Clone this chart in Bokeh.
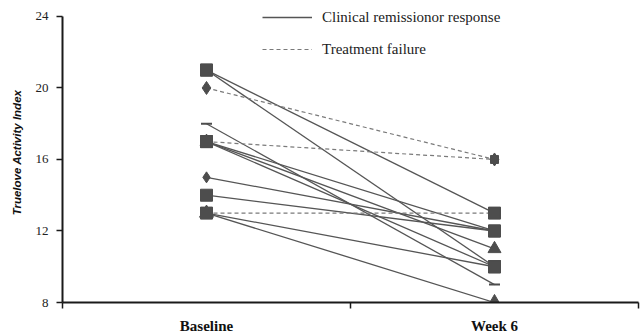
from bokeh.plotting import figure
from bokeh.models import Range1d, FixedTicker, Legend, LegendItem
from bokeh.embed import file_html
from bokeh.resources import INLINE

# ---- data ----
timepoints = ["Baseline", "Week 6"]
baseline = [21, 21, 20, 18, 17, 17, 17, 17, 15, 14, 13, 13, 13]
week6 = [13, 10, 16, 9, 16, 12, 11, 10, 12, 12, 13, 10, 8]
outcome = ["response", "response", "failure", "response", "failure", "response",
           "response", "response", "response", "response", "failure", "response", "response"]
legend_labels = {"response": "Clinical remissionor response", "failure": "Treatment failure"}
y_ticks = [8, 12, 16, 20, 24]
y_min, y_max = 8, 24

# ---- style ----
markers = ["square", "square", "diamond", "dash", "square", "square",
           "triangle", "square", "diamond", "square", "square", "square", "triangle"]
msizes = [12, 12, 13, 11, 8, 12, 13, 12, 11, 12, 11, 12, 14]
draw_order = [6, 12, 3, 8, 0, 1, 4, 5, 7, 9, 10, 11, 2]
x_pos = [0.5, 1.5]

p = figure(width=642, height=336, output_backend="svg", toolbar_location=None,
           x_range=Range1d(0, 2), y_range=Range1d(y_min, y_max + 0.78),
           min_border_left=62, min_border_top=2, min_border_right=4, min_border_bottom=33)
p.outline_line_color = None
p.grid.visible = False
p.background_fill_color = "white"
p.border_fill_color = "white"

resp_xs, resp_ys, fail_xs, fail_ys = [], [], [], []
for b, w, o in zip(baseline, week6, outcome):
    if o == "response":
        resp_xs.append(x_pos); resp_ys.append([b, w])
    else:
        fail_xs.append(x_pos); fail_ys.append([b, w])

r_resp = p.multi_line(xs=resp_xs, ys=resp_ys, line_color="#555555", line_width=1.3)
r_fail = p.multi_line(xs=fail_xs, ys=fail_ys, line_color="#7a7a7a", line_width=1.2,
                      line_dash="4 3")

for i in draw_order:
    p.scatter(x=x_pos, y=[baseline[i], week6[i]], marker=markers[i], size=msizes[i],
              fill_color="#4d4d4d", line_color="#4d4d4d",
              line_width=2 if markers[i] == "dash" else 1)

yax = p.yaxis[0]
yax.ticker = FixedTicker(ticks=y_ticks)
yax.bounds = (y_min, y_max)
yax.axis_label = "Truelove Activity Index"
yax.axis_label_text_font = "Liberation Sans"
yax.axis_label_text_font_style = "bold italic"
yax.axis_label_text_font_size = "11.5px"
yax.axis_label_text_color = "#111111"
yax.axis_label_standoff = 10
yax.major_label_text_font = "Liberation Serif"
yax.major_label_text_font_size = "13px"
yax.major_label_text_color = "#222222"
yax.major_label_standoff = 8
yax.major_tick_out = 6
yax.major_tick_in = 0
yax.minor_tick_out = 0
yax.minor_tick_in = 0
yax.axis_line_width = 2
yax.axis_line_color = "#1a1a1a"
yax.major_tick_line_color = "#1a1a1a"
yax.major_tick_line_width = 1.5

xax = p.xaxis[0]
xax.ticker = FixedTicker(ticks=x_pos, minor_ticks=[0, 1, 2])
xax.major_label_overrides = {0.5: timepoints[0], 1.5: timepoints[1]}
xax.major_label_text_font = "Liberation Serif"
xax.major_label_text_font_style = "bold"
xax.major_label_text_font_size = "15px"
xax.major_label_text_color = "#111111"
xax.major_label_standoff = 9
xax.major_tick_out = 0
xax.major_tick_in = 0
xax.minor_tick_out = 6
xax.minor_tick_in = 0
xax.minor_tick_line_color = "#1a1a1a"
xax.minor_tick_line_width = 1.5
xax.axis_line_width = 2
xax.axis_line_color = "#1a1a1a"

legend = Legend(items=[LegendItem(label=legend_labels["response"], renderers=[r_resp]),
                       LegendItem(label=legend_labels["failure"], renderers=[r_fail])],
                location=(200, 243), padding=0, margin=0, spacing=12,
                label_height=20, glyph_height=20, glyph_width=50, label_standoff=10,
                label_text_font="Liberation Serif", label_text_font_size="15px",
                label_text_color="#222222",
                border_line_alpha=0, background_fill_alpha=0)
p.add_layout(legend, "center")

open("out.html", "w").write(file_html(p, INLINE))
